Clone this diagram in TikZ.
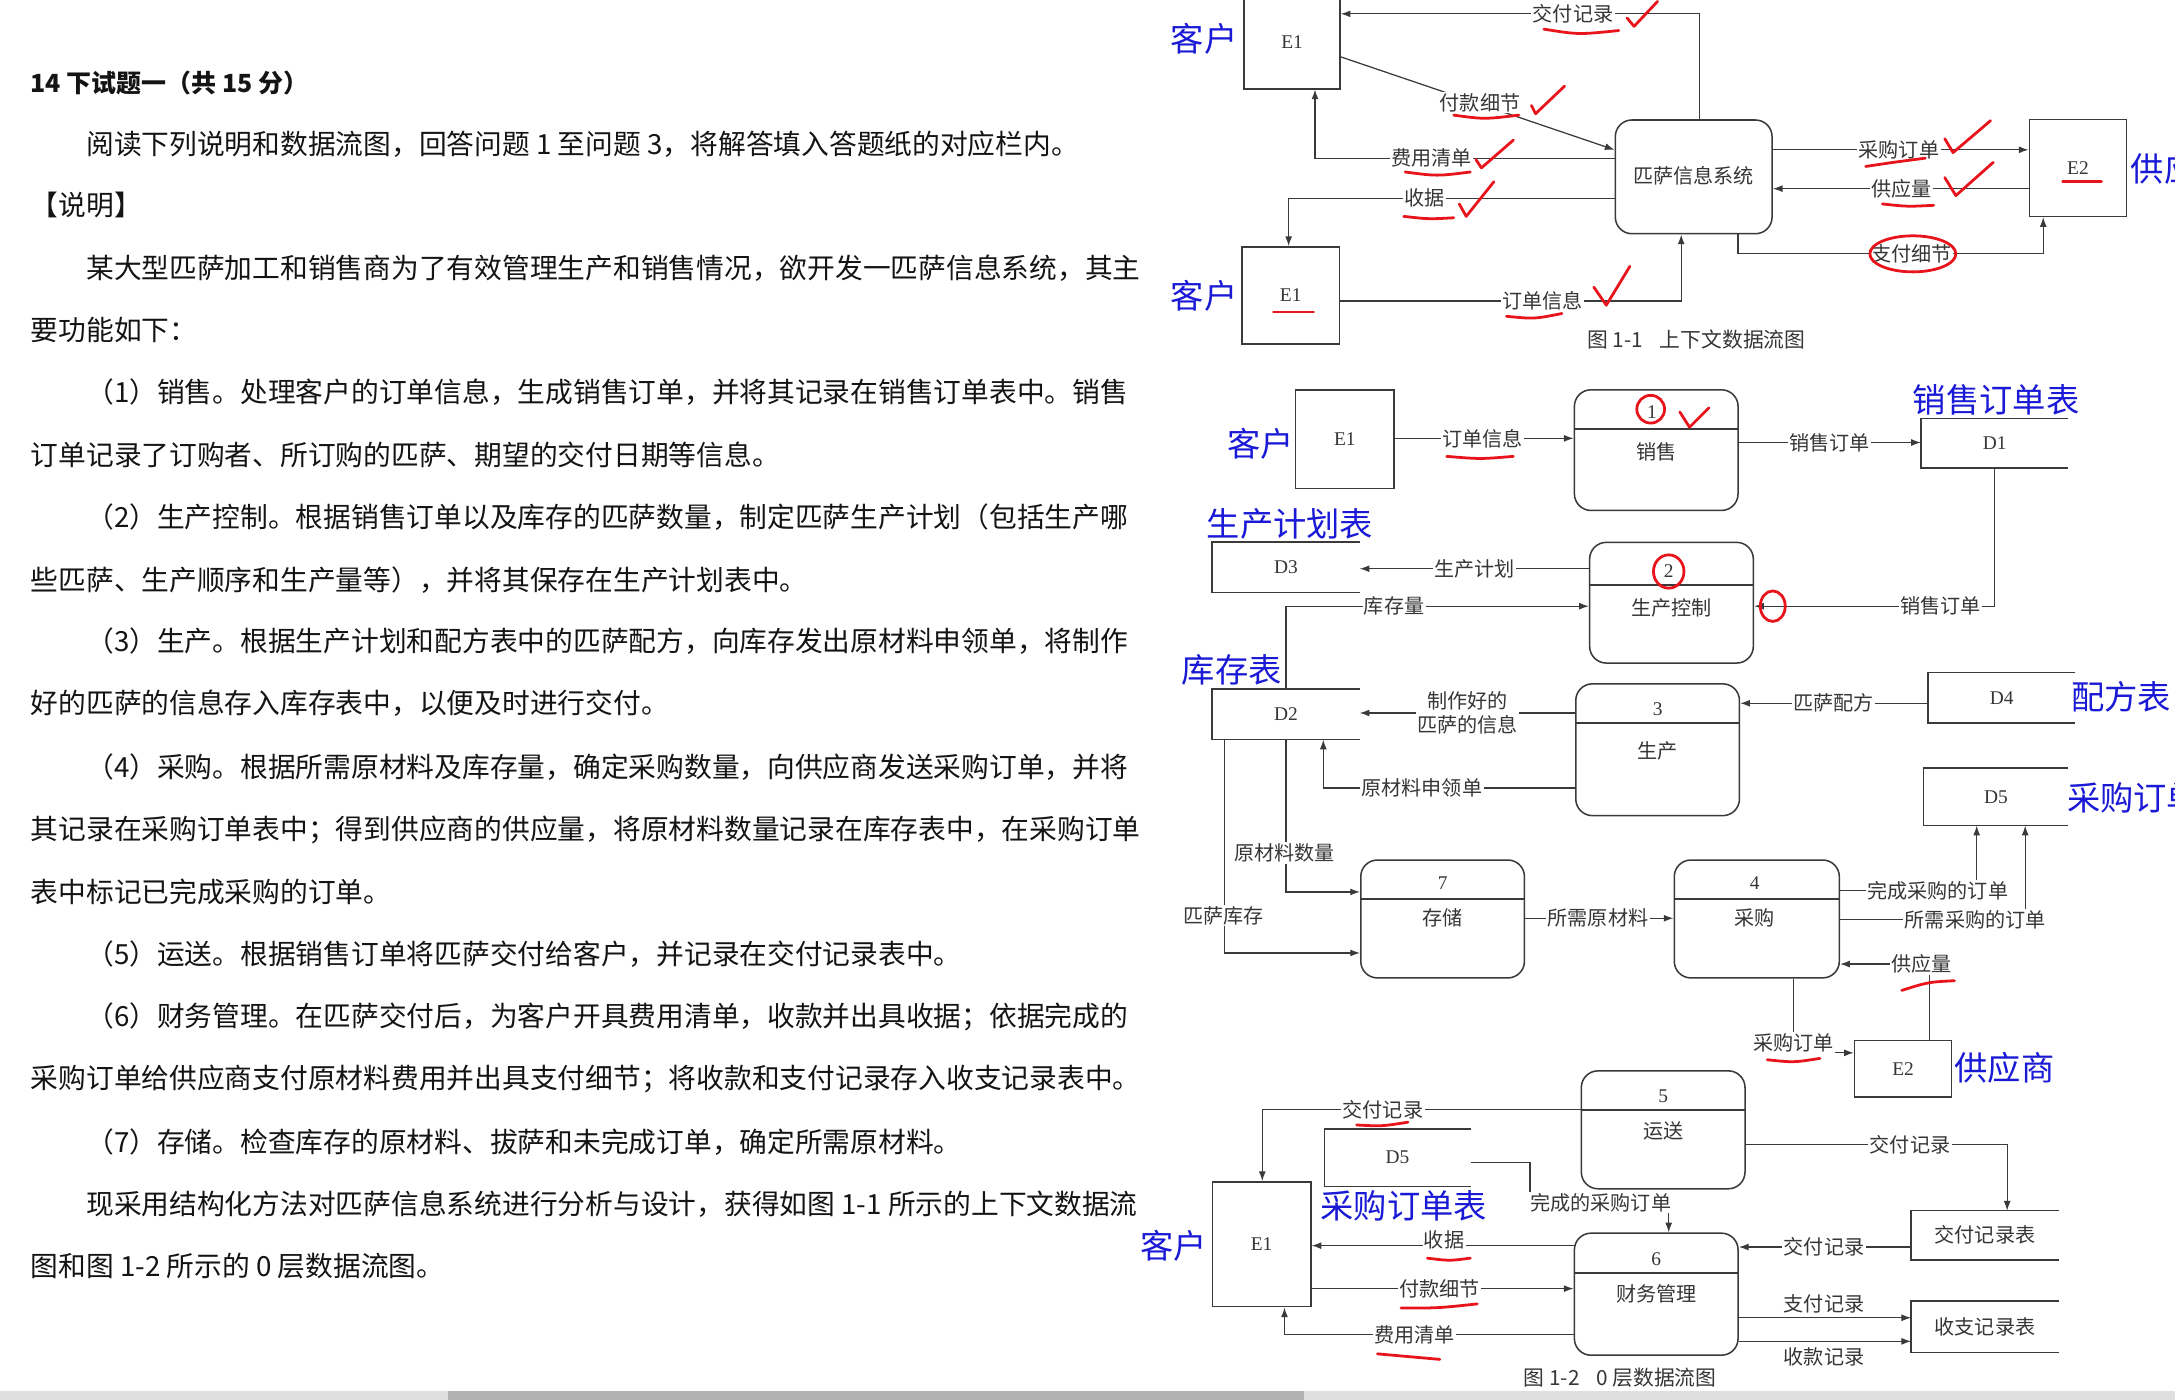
\documentclass[tikz,border=0pt]{standalone}
\usepackage{fontspec}
\setmainfont{Liberation Serif}
\newfontfamily\cjk{Noto Sans CJK SC}
\usetikzlibrary{arrows.meta}
\XeTeXinterchartokenstate=1
\XeTeXinterchartoks 1 1 = {\hskip 0pt plus 1pt\relax}
\XeTeXinterchartoks 1 3 = {\hskip 0pt plus 1pt\relax}
\XeTeXinterchartoks 3 1 = {\hskip 0pt plus 1pt\relax}
\XeTeXinterchartoks 3 2 = {\hskip 0pt plus 1pt\relax}
\XeTeXinterchartoks 1 2 = {\hskip 0pt plus 1pt\relax}
\definecolor{ink}{HTML}{141414}
\definecolor{dline}{HTML}{3A3A3A}
\definecolor{dtext}{HTML}{363636}
\definecolor{hand}{HTML}{1A1AD6}
\definecolor{mark}{HTML}{E8141C}
\tikzset{
 body/.style={anchor=west, inner sep=0pt, text=ink, font=\cjk\fontsize{20}{24}\selectfont},
 ttl/.style={anchor=west, inner sep=0pt, text=ink, font=\cjk\bfseries\fontsize{18}{20}\selectfont},
 ent/.style={draw=dline, line width=1.1pt, fill=white, inner sep=0pt, text=dtext, font=\fontsize{14}{14}\selectfont},
 procbox/.style={draw=dline, line width=1.1pt, rounded corners=12pt, inner sep=0pt, fill=white},
 divl/.style={draw=dline, line width=1.4pt},
 storen/.style={inner sep=0pt, text=dtext, font=\fontsize{14}{14}\selectfont},
 storel/.style={draw=dline, line width=1.1pt},
 flow/.style={draw=dline, line width=0.9pt, -{Latex[length=7pt,width=5pt]}},
 lab/.style={fill=white, inner sep=1pt, text=dtext, font=\cjk\fontsize{14.5}{17}\selectfont},
 plab/.style={inner sep=0pt, text=dtext, font=\fontsize{14}{14}\selectfont},
 ptext/.style={inner sep=0pt, text=dtext, font=\cjk\fontsize{14.5}{14.5}\selectfont},
 handlab/.style={inner sep=0pt, text=hand, font=\cjk\fontsize{24}{24}\selectfont},
 captxt/.style={inner sep=0pt, text=dtext, font=\cjk\fontsize{15}{15}\selectfont},
 redmark/.style={draw=mark, line width=2pt, line cap=round, line join=round},
}
\begin{document}
\begin{tikzpicture}[x=1pt,y=-1pt]
\path[use as bounding box] (0,0) rectangle (1568,1009);
\clip (0,0) rectangle (1568,1009);
\fill[white] (0,0) rectangle (1568,1009);

% ---------------- left text ----------------
\node[ttl] (t0) at (22,60) {14 下试题一（共 15 分）};
\node[body] (t1) at (62,104) {阅读下列说明和数据流图，回答问题 1 至问题 3，将解答填入答题纸的对应栏内。};
\node[body] (t2) at (22,148) {【说明】};
\node[body] (t3) at (62,193) {\makebox[758pt][s]{某大型匹萨加工和销售商为了有效管理生产和销售情况，欲开发一匹萨信息系统，其主}};
\node[body] (t4) at (22,238) {要功能如下：};
\node[body] (t5) at (62,283) {\makebox[758pt][s]{（1）销售。处理客户的订单信息，生成销售订单，并将其记录在销售订单表中。销售}};
\node[body] (t6) at (22,328) {订单记录了订购者、所订购的匹萨、期望的交付日期等信息。};
\node[body] (t7) at (62,373) {\makebox[758pt][s]{（2）生产控制。根据销售订单以及库存的匹萨数量，制定匹萨生产计划（包括生产哪}};
\node[body] (t8) at (22,418) {些匹萨、生产顺序和生产量等），并将其保存在生产计划表中。};
\node[body] (t9) at (62,462) {\makebox[758pt][s]{（3）生产。根据生产计划和配方表中的匹萨配方，向库存发出原材料申领单，将制作}};
\node[body] (t10) at (22,507) {好的匹萨的信息存入库存表中，以便及时进行交付。};
\node[body] (t11) at (62,553) {\makebox[758pt][s]{（4）采购。根据所需原材料及库存量，确定采购数量，向供应商发送采购订单，并将}};
\node[body] (t12) at (22,598) {\makebox[798pt][s]{其记录在采购订单表中；得到供应商的供应量，将原材料数量记录在库存表中，在采购订单}};
\node[body] (t13) at (22,643) {表中标记已完成采购的订单。};
\node[body] (t14) at (62,688) {（5）运送。根据销售订单将匹萨交付给客户，并记录在交付记录表中。};
\node[body] (t15) at (62,733) {\makebox[758pt][s]{（6）财务管理。在匹萨交付后，为客户开具费用清单，收款并出具收据；依据完成的}};
\node[body] (t16) at (22,778) {\makebox[798pt][s]{采购订单给供应商支付原材料费用并出具支付细节；将收款和支付记录存入收支记录表中。}};
\node[body] (t17) at (62,823) {（7）存储。检查库存的原材料、拔萨和未完成订单，确定所需原材料。};
\node[body] (t18) at (62,868) {\makebox[758pt][s]{现采用结构化方法对匹萨信息系统进行分析与设计，获得如图 1-1 所示的上下文数据流}};
\node[body] (t19) at (22,913) {图和图 1-2 所示的 0 层数据流图。};

% ---------------- Figure 1-1 ----------------
\node[ent, minimum width=69pt, minimum height=67pt] (e1a) at (931.5,30.5) {E1};
\node[ent, minimum width=70pt, minimum height=70pt] (e1b) at (930.5,213) {E1};
\node[procbox, minimum width=113pt, minimum height=82pt] (sys) at (1221,127.5) {};
\node[ptext] (syst) at (1221,127) {匹萨信息系统};
\node[ent, minimum width=70pt, minimum height=70pt] (e2a) at (1498,121) {E2};
\node[handlab] (c1) at (868,28) {客户};
\node[handlab] (c2) at (868,213) {客户};
\node[handlab, anchor=west] (c3) at (1536,122) {供应商};

\draw[flow] ([xshift=4pt]sys.north) |- (e1a.east |- 0,10);
\draw[flow] (e1a.east |- 0,41) -- (sys.west |- 0,108);
\draw[flow] (sys.west |- 0,114) -| (e1a.south -| 948,0);
\draw[flow] (sys.west |- 0,143) -| (e1b.north -| 929,0);
\draw[flow] (e1b.east |- 0,217) -| (sys.south -| 1212,0);
\draw[flow] (sys.east |- 0,108) -- (e2a.west |- 0,108);
\draw[flow] (e2a.west |- 0,136) -- (sys.east |- 0,136);
\draw[flow] (sys.south -| 1253,0) -- (1253,183) -| (e2a.south -| 1473,0);

\node[lab] (a1) at (1134,10) {交付记录};
\node[lab] (a2) at (1067,74) {付款细节};
\node[lab] (a3) at (1032,114) {费用清单};
\node[lab] (a4) at (1027,143) {收据};
\node[lab] (a5) at (1112,217) {订单信息};
\node[lab] (a6) at (1369,108) {采购订单};
\node[lab] (a7) at (1371,136) {供应量};
\node[lab] (a8) at (1378,183) {支付细节};
\node[captxt] (cap1) at (1223,245) {图 1-1\hspace{12pt}上下文数据流图};

% ---------------- Figure 1-2 ----------------
% entities
\node[ent, minimum width=71pt, minimum height=71pt] (e1c) at (969.5,316.5) {E1};
\node[ent, minimum width=70pt, minimum height=41pt] (e2b) at (1372,770.5) {E2};
\node[ent, minimum width=71pt, minimum height=90pt] (e1d) at (909.5,897) {E1};
% processes
\node[procbox, minimum width=118pt, minimum height=87pt] (p1) at (1194,324.5) {};
\draw[divl] (p1.west |- 0,309) -- (p1.east |- 0,309);
\node[plab] (p1n) at (1191,297) {1};
\node[ptext] (p1t) at (1194,326) {销售};

\node[procbox, minimum width=118pt, minimum height=87pt] (p2) at (1205,434.5) {};
\draw[divl] (p2.west |- 0,422) -- (p2.east |- 0,422);
\node[plab] (p2n) at (1203,412) {2};
\node[ptext] (p2t) at (1205,438) {生产控制};

\node[procbox, minimum width=118pt, minimum height=95pt] (p3) at (1195,540.5) {};
\draw[divl] (p3.west |- 0,521) -- (p3.east |- 0,521);
\node[plab] (p3n) at (1195,511) {3};
\node[ptext] (p3t) at (1195,541) {生产};

\node[procbox, minimum width=118pt, minimum height=85pt] (p7) at (1040,662.5) {};
\draw[divl] (p7.west |- 0,648) -- (p7.east |- 0,648);
\node[plab] (p7n) at (1040,637) {7};
\node[ptext] (p7t) at (1040,662) {存储};

\node[procbox, minimum width=119pt, minimum height=85pt] (p4) at (1266.5,662.5) {};
\draw[divl] (p4.west |- 0,648) -- (p4.east |- 0,648);
\node[plab] (p4n) at (1265,637) {4};
\node[ptext] (p4t) at (1265,662) {采购};

\node[procbox, minimum width=118pt, minimum height=85pt] (p5) at (1199,814.5) {};
\draw[divl] (p5.west |- 0,800) -- (p5.east |- 0,800);
\node[plab] (p5n) at (1199,790) {5};
\node[ptext] (p5t) at (1199,815) {运送};

\node[procbox, minimum width=118pt, minimum height=88pt] (p6) at (1194,933) {};
\draw[divl] (p6.west |- 0,918) -- (p6.east |- 0,918);
\node[plab] (p6n) at (1194,908) {6};
\node[ptext] (p6t) at (1194,933) {财务管理};

% data stores
\node[storen, minimum width=106pt, minimum height=35pt] (d1) at (1438,319.5) {D1};
\node[storen, minimum width=106pt, minimum height=36pt] (d3) at (927,409) {D3};
\node[storen, minimum width=106pt, minimum height=36pt] (d2) at (927,515) {D2};
\node[storen, minimum width=106pt, minimum height=36pt] (d4) at (1443,503) {D4};
\node[storen, minimum width=104pt, minimum height=41pt] (d5a) at (1439,574.5) {D5};
\node[storen, minimum width=105pt, minimum height=41pt] (d5b) at (1007.5,834.5) {D5};
\node[storen, minimum width=106pt, minimum height=35pt, font=\cjk\fontsize{14.5}{14.5}\selectfont] (jl) at (1431,890.5) {交付记录表};
\node[storen, minimum width=106pt, minimum height=37pt, font=\cjk\fontsize{14.5}{14.5}\selectfont] (sz) at (1431,956.5) {收支记录表};
\foreach \s in {d1,d3,d2,d4,d5a,d5b,jl,sz}
  \draw[storel] (\s.north east) -- (\s.north west) -- (\s.south west) -- (\s.south east);

% blue handwriting labels
\node[handlab] (c4) at (909,320) {客户};
\node[handlab] (c5) at (1439,288) {销售订单表};
\node[handlab] (c6) at (930,378) {生产计划表};
\node[handlab] (c7) at (888,483) {库存表};
\node[handlab, anchor=west] (c8) at (1493,502) {配方表};
\node[handlab, anchor=west] (c9) at (1490,575) {采购订单表};
\node[handlab] (c10) at (1445,770) {供应商};
\node[handlab] (c11) at (1012,869) {采购订单表};
\node[handlab] (c12) at (846,898) {客户};

% flows
\draw[flow] (e1c.east |- 0,316) -- (p1.west |- 0,316);
\draw[flow] (p1.east |- 0,319) -- (d1.west |- 0,319);
\draw[flow] (p2.west |- 0,410) -- (d3.east |- 0,410);
\draw[flow] (d2.north) |- (p2.west |- 0,437);
\draw[flow] (d1.south) |- (p2.east |- 0,437);
\draw[flow] (d4.west |- 0,507) -- (p3.east |- 0,507);
\draw[flow] (p3.west |- 0,514) -- (d2.east |- 0,514);
\draw[flow] (p3.west |- 0,568) -| (d2.south -| 954,0);
\draw[flow] (d2.south) |- (p7.west |- 0,643);
\draw[flow] (d2.south -| 883,0) |- (p7.west |- 0,687);
\draw[flow] (p7.east |- 0,662) -- (p4.west |- 0,662);
\draw[flow] (p4.east |- 0,642) -| (d5a.south -| 1425,0);
\draw[flow] (p4.east |- 0,663) -| (d5a.south -| 1460,0);
\draw[flow] (e2b.north -| 1391,0) |- (p4.east |- 0,695);
\draw[flow] (p4.south -| 1293,0) |- (e2b.west |- 0,759);
\draw[flow] (p5.west |- 0,800) -| (e1d.north -| 910,0);
\draw[flow] (d5b.east |- 0,838) -| (1103,867) -| (p6.north -| 1203,0);
\draw[flow] (p5.east |- 0,825) -| (jl.north -| 1447,0);
\draw[flow] (jl.west |- 0,899) -- (p6.east |- 0,899);
\draw[flow] (p6.west |- 0,898) -- (e1d.east |- 0,898);
\draw[flow] (e1d.east |- 0,929) -- (p6.west |- 0,929);
\draw[flow] (p6.west |- 0,962) -| (e1d.south -| 926,0);
\draw[flow] (p6.east |- 0,950) -- (sz.west |- 0,950);
\draw[flow] (p6.east |- 0,967) -- (sz.west |- 0,967);

% flow labels
\node[lab] (b1) at (1069,316) {订单信息};
\node[lab] (b2) at (1319,319) {销售订单};
\node[lab] (b3) at (1063,410) {生产计划};
\node[lab] (b4) at (1005,437) {库存量};
\node[lab] (b5) at (1399,437) {销售订单};
\node[lab, align=center] (b6) at (1058,514) {制作好的\\匹萨的信息};
\node[lab] (b7) at (1322,507) {匹萨配方};
\node[lab] (b8) at (1025,568) {原材料申领单};
\node[lab] (b9) at (926,615) {原材料数量};
\node[lab] (b10) at (882,660) {匹萨库存};
\node[lab] (b11) at (1152,662) {所需原材料};
\node[lab] (b12) at (1397,642) {完成采购的订单};
\node[lab] (b13) at (1424,663) {所需采购的订单};
\node[lab] (b14) at (1385,695) {供应量};
\node[lab] (b15) at (1293,752) {采购订单};
\node[lab] (b16) at (997,800) {交付记录};
\node[lab] (b17) at (1154,867) {完成的采购订单};
\node[lab] (b18) at (1377,825) {交付记录};
\node[lab] (b19) at (1315,899) {交付记录};
\node[lab] (b20) at (1041,894) {收据};
\node[lab] (b21) at (1038,929) {付款细节};
\node[lab] (b22) at (1020,962) {费用清单};
\node[lab, fill=none] (b23) at (1315,940) {支付记录};
\node[lab, fill=none] (b24) at (1315,978) {收款记录};
\node[captxt] (cap2) at (1168,993) {图 1-2\hspace{12pt}0 层数据流图};

% ---------------- red annotations ----------------
\draw[redmark] (1113,21) .. controls (1138,25) .. (1167,22);
\draw[redmark] (1173,13) -- (1178,19) -- (1195,1);
\draw[redmark] (1048,83) .. controls (1070,86) .. (1095,83);
\draw[redmark] (1104,76) -- (1107,82) -- (1128,62);
\draw[redmark] (1013,124) .. controls (1036,127) .. (1060,124);
\draw[redmark] (1064,115) -- (1068,121) -- (1091,101);
\draw[redmark] (1012,156) .. controls (1030,158) .. (1048,157);
\draw[redmark] (1052,147) -- (1057,156) -- (1077,131);
\draw[redmark] (1086,228) .. controls (1106,230) .. (1126,226);
\draw[redmark] (1149,207) -- (1158,220) -- (1175,192);
\draw[redmark] (1345,120) .. controls (1365,117) .. (1388,114);
\draw[redmark] (1402,100) -- (1408,110) -- (1435,87);
\draw[redmark] (1357,147) .. controls (1375,149) .. (1394,148);
\draw[redmark] (1402,128) -- (1410,141) -- (1437,117);
\draw[redmark] (1487,131) -- (1515,131);
\draw[redmark] (918,225) -- (947,225);
\draw[redmark] (1379,183) ellipse [x radius=31, y radius=13];
\draw[redmark] (1190,295) circle [radius=10];
\draw[redmark] (1211,297) -- (1218,308) -- (1232,294);
\draw[redmark] (1043,329) .. controls (1067,331) .. (1091,329);
\draw[redmark] (1203,412) ellipse [x radius=11, y radius=12];
\draw[redmark] (1278,437) ellipse [x radius=9, y radius=11];
\draw[redmark] (1371,714) .. controls (1390,708) .. (1409,707);
\draw[redmark] (1274,764) .. controls (1293,766) .. (1312,763);
\draw[redmark] (978,811) .. controls (996,812) .. (1015,809);
\draw[redmark] (1029,907) .. controls (1045,909) .. (1060,907);
\draw[redmark] (1010,943) .. controls (1037,943) .. (1065,940);
\draw[redmark] (993,976) .. controls (1015,978) .. (1038,980);

% ---------------- scrollbar ----------------
\fill[gray!25] (0,1003) rectangle (1568,1009);
\fill[gray!60] (323,1003) rectangle (940,1009);
\end{tikzpicture}
\end{document}
